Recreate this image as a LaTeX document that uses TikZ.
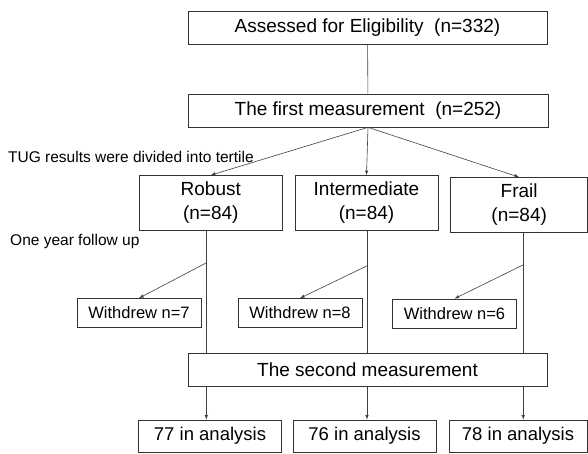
\documentclass[tikz,border=0pt]{standalone}
\usepackage{fontspec}
\setmainfont{Liberation Sans}
\usetikzlibrary{shapes,arrows,positioning}

\begin{document}
\begin{tikzpicture}[x=1pt, y=-1pt, node distance=12pt, auto,
    block/.style={rectangle, draw=black!80, line width=0.7pt, inner sep=0pt, minimum height=33pt, font=\fontsize{19}{21}\selectfont},
    group/.style={block, minimum width=143pt, minimum height=55pt, align=center, font=\fontsize{19}{24}\selectfont},
    small/.style={block, minimum width=124pt, minimum height=29pt, font=\fontsize{16.5}{18}\selectfont},
    result/.style={block, minimum width=143pt, minimum height=32pt, font=\fontsize{18.5}{20}\selectfont},
    note/.style={anchor=west, inner sep=0pt, font=\fontsize{15.5}{17}\selectfont},
    line/.style={draw=black!75, line width=0.6pt},
    arrow/.style={line, -latex}]

    \useasboundingbox (0,0) rectangle (588,453);

    \node [block, minimum width=359pt] (assess) at (367.5,28) {Assessed for Eligibility\ \ (n=332)};
    \node [block, minimum width=360pt] (first) at (368,110.5) {The first measurement\ \ (n=252)};

    \node [group] (inter) at (366.5,203) {Intermediate\\(n=84)};
    \node [group, left=of inter] (robust) {Robust\\(n=84)};
    \node [group, right=of inter, minimum width=137pt, yshift=-2pt] (frail) {Frail\\(n=84)};

    \node [note] (tug) at (8,157) {TUG results were divided into tertile};
    \node [note] (follow) at (10,241) {One year follow up};

    \node [small] (wd7) at (139,313) {Withdrew n=7};
    \node [small] (wd8) at (300,313) {Withdrew n=8};
    \node [small] (wd6) at (454.5,313.5) {Withdrew n=6};

    \node [block, minimum width=359pt] (second) at (367.5,370) {The second measurement};

    \node [result] (res77) at (210,436) {77 in analysis};
    \node [result] (res76) at (364.5,436) {76 in analysis};
    \node [result, minimum width=138pt] (res78) at (518,436) {78 in analysis};

    % branch points on the follow-up lines
    \coordinate (r1) at ([xshift=-4.5pt]robust.south);
    \coordinate (r2) at ([xshift=0.5pt]inter.south);
    \coordinate (r3) at ([xshift=4pt]frail.south);
    \coordinate (b1) at ([yshift=-32pt]r1);
    \coordinate (b2) at ([yshift=-35pt]r2);
    \coordinate (b3) at ([yshift=-32pt]r3);

    \path [line] (assess) -- (first);
    \path [arrow] (first.south) -- (robust.north);
    \path [arrow] (first.south) -- (inter.north);
    \path [arrow] (first.south) -- (frail.north);

    \path [line] (r1) -- (r1 |- second.north);
    \path [line] (r2) -- (r2 |- second.north);
    \path [line] (r3) -- (r3 |- second.north);

    \path [arrow] (b1) -- (wd7.north);
    \path [arrow] (b2) -- (wd8.north);
    \path [arrow] (b3) -- (wd6.north);

    \path [arrow] (r1 |- second.south) -- (r1 |- res77.north);
    \path [arrow] (r2 |- second.south) -- (r2 |- res76.north);
    \path [arrow] (r3 |- second.south) -- (r3 |- res78.north);
\end{tikzpicture}
\end{document}
